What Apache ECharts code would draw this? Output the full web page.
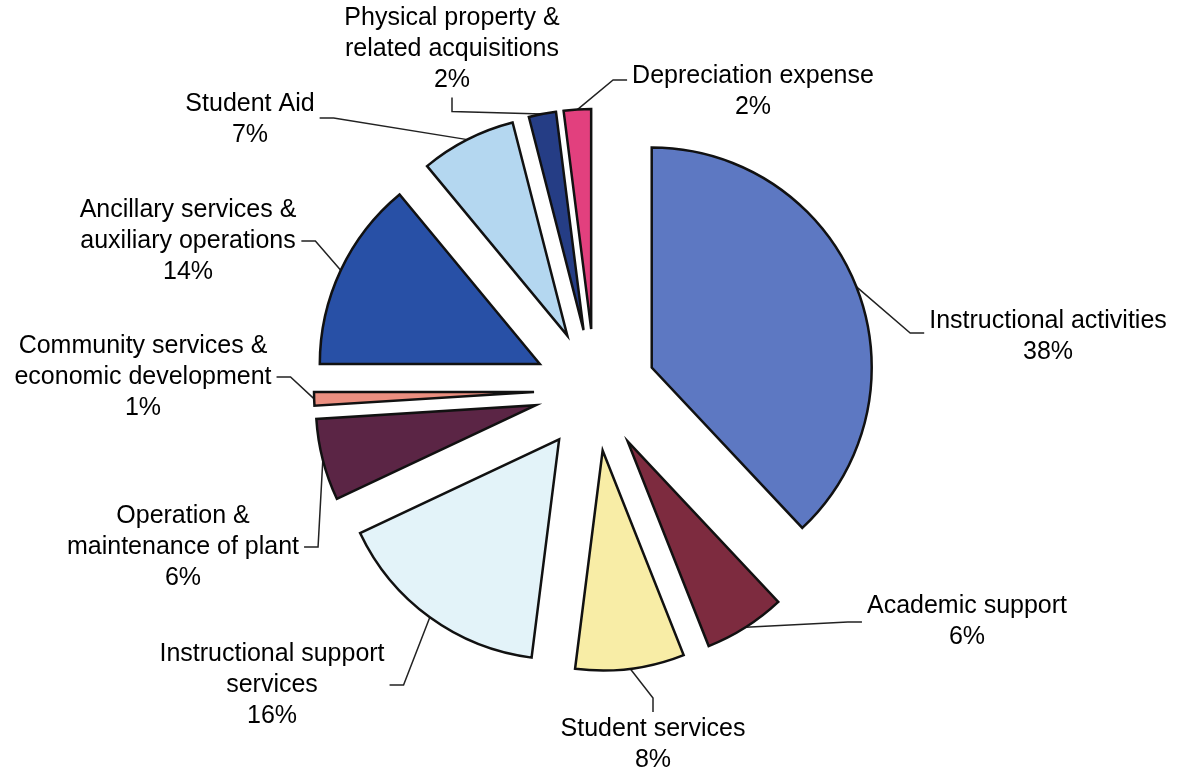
<!DOCTYPE html>
<html>
<head>
<meta charset="utf-8">
<title>Expenses by function</title>
<script src="https://cdn.jsdelivr.net/npm/echarts@6/dist/echarts.min.js"></script>
<style>
  html, body { margin: 0; padding: 0; background: #fff; }
  #main { width: 1177px; height: 772px; }
</style>
</head>
<body>
<div id="main"></div>
<script>
  // slices, clockwise from 12 o'clock
  const categories = [
    'Instructional activities',
    'Academic support',
    'Student services',
    'Instructional support services',
    'Operation & maintenance of plant',
    'Community services & economic development',
    'Ancillary services & auxiliary operations',
    'Student Aid',
    'Physical property & related acquisitions',
    'Depreciation expense'
  ];
  // how each category name breaks over lines in its label
  const labelText = [
    ['Instructional activities'],
    ['Academic support'],
    ['Student services'],
    ['Instructional support', 'services'],
    ['Operation &', 'maintenance of plant'],
    ['Community services &', 'economic development'],
    ['Ancillary services &', 'auxiliary operations'],
    ['Student Aid'],
    ['Physical property &', 'related acquisitions'],
    ['Depreciation expense']
  ];
  const shares = [38, 6, 8, 16, 6, 1, 14, 7, 2, 2];
  const colors = ['#5d78c2', '#7d2b3f', '#f8eda6', '#e3f3f9', '#5b2545',
                  '#eb8f80', '#2850a6', '#b4d7f0', '#253d85', '#e2407e'];

  // where each label block sits (centre), which side the leader line meets,
  // and how far up/down that side the line ends
  const labelAt = [[1048, 337], [967, 622], [653, 745], [272, 685], [183, 547],
                   [143, 377], [188, 241], [250, 120], [452, 49], [753, 92]];
  const labelSide = ['left', 'left', 'top', 'right', 'right',
                     'right', 'right', 'right', 'bottom', 'left'];
  const lineShift = [-4, 0, 0, 0, 0, 0, 0, -2, 0, -12];

  const pieCenter = [595, 390];
  const radius = 220;
  const explode = 61;
  const total = shares.reduce(function (a, b) { return a + b; }, 0);
  const font = 'Arial, "Liberation Sans", sans-serif';

  function placeLabel(i) {
    return function (params) {
      const px = labelAt[i][0], py = labelAt[i][1];
      const w = params.labelRect.width, h = params.labelRect.height;
      const gap = 5, arm = 14;
      let end, bend;
      if (labelSide[i] === 'left') {
        end = [px - w / 2 - gap, py + lineShift[i]]; bend = [end[0] - arm, end[1]];
      } else if (labelSide[i] === 'right') {
        end = [px + w / 2 + gap, py + lineShift[i]]; bend = [end[0] + arm, end[1]];
      } else if (labelSide[i] === 'top') {
        end = [px, py - h / 2 - gap]; bend = [px, end[1] - arm];
      } else {
        end = [px, py + h / 2 + gap]; bend = [px, end[1] + arm];
      }
      const start = params.labelLinePoints ? params.labelLinePoints[0] : bend;
      return {
        x: px, y: py, align: 'center', verticalAlign: 'middle',
        labelLinePoints: [start, bend, end]
      };
    };
  }

  // every slice is pulled out from the middle, so each gets its own pie
  // (same angles, centre shifted along the slice's mid angle)
  let acc = 0;
  const series = shares.map(function (v, i) {
    const start = acc;
    const mid = (acc + v / 2) / total * 2 * Math.PI;
    acc += v;
    return {
      type: 'pie',
      silent: true,
      radius: radius,
      center: [pieCenter[0] + explode * Math.sin(mid), pieCenter[1] - explode * Math.cos(mid)],
      startAngle: 90 - start / total * 360,
      clockwise: true,
      avoidLabelOverlap: false,
      label: {
        formatter: function () {
          return labelText[i].concat([v + '%']).map(function (t) {
            return '{c|' + t + '}';
          }).join('\n');
        },
        rich: {
          c: { fontFamily: font, fontSize: 25, lineHeight: 31, color: '#000', align: 'center' }
        }
      },
      labelLine: {
        length: 15, length2: 15,
        lineStyle: { color: '#222', width: 1.5 }
      },
      labelLayout: placeLabel(i),
      data: [
        {
          value: v, name: categories[i],
          itemStyle: { color: colors[i], borderColor: '#111', borderWidth: 2.5, borderJoin: 'miter' }
        },
        {
          value: total - v, name: 'rest',
          itemStyle: { color: 'rgba(0,0,0,0)', borderWidth: 0 },
          label: { show: false }, labelLine: { show: false }
        }
      ]
    };
  });

  const chart = echarts.init(document.getElementById('main'));
  chart.setOption({
    animation: false,
    backgroundColor: '#fff',
    series: series
  });
</script>
</body>
</html>
